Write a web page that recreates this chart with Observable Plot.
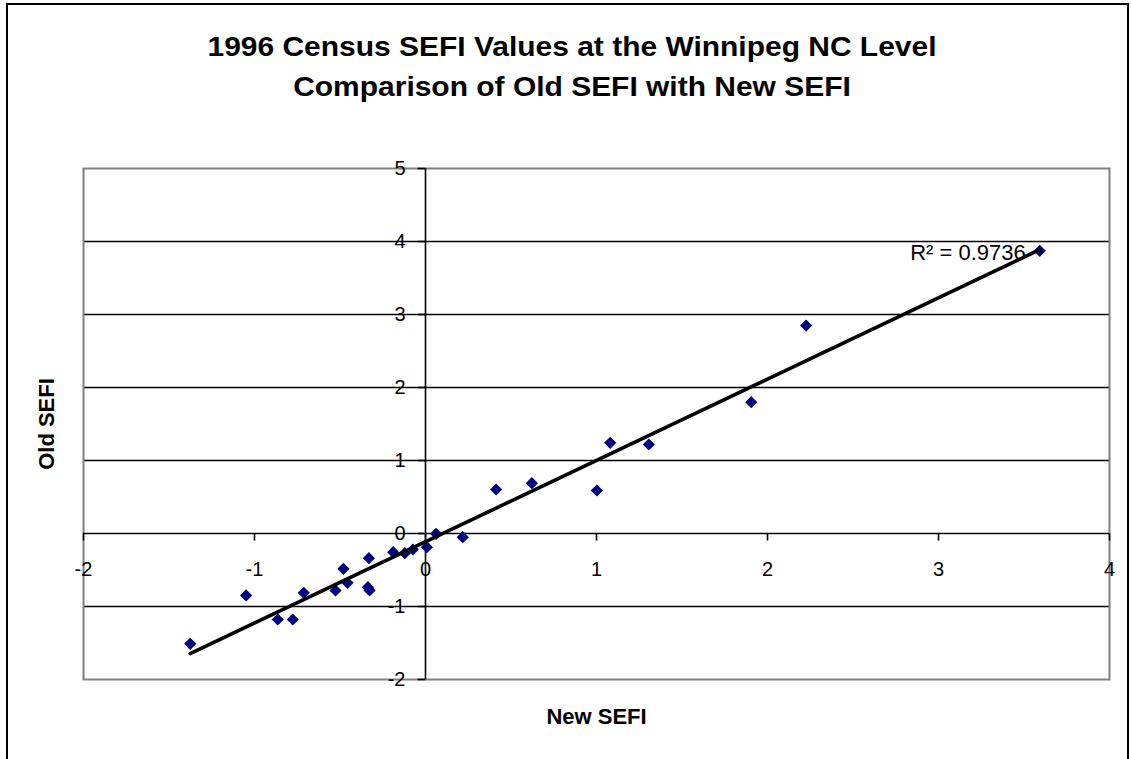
<!DOCTYPE html>
<html>
<head>
<meta charset="utf-8">
<script src="https://cdn.jsdelivr.net/npm/d3@7"></script>
<script src="https://cdn.jsdelivr.net/npm/@observablehq/plot@0.6"></script>
<style>
  html, body { margin: 0; padding: 0; background: #fff; }
  #wrap { position: relative; width: 1132px; height: 759px; overflow: hidden; font-family: "Liberation Sans", Arial, sans-serif; }
  #border { position: absolute; left: 6px; top: 3px; width: 1119px; height: 800px; border: 2px solid #000; box-sizing: content-box; }
  #title { position: absolute; top: 27px; left: 6px; width: 1132px; text-align: center; font-weight: bold; font-size: 28px; line-height: 40px; color: #000; transform: scaleX(1.07); transform-origin: 566px 0; }
  #chart { position: absolute; left: 0; top: 130px; }
</style>
</head>
<body>
<div id="wrap">
  <div id="border"></div>
  <div id="title">1996 Census SEFI Values at the Winnipeg NC Level<br>Comparison of Old SEFI with New SEFI</div>
  <div id="chart"></div>
</div>
<script>
// Data (25 Winnipeg neighbourhood clusters)
const newSEFI = [-1.376, -1.049, -0.864, -0.776, -0.712, -0.526, -0.480, -0.456, -0.331, -0.337, -0.327, -0.189, -0.121, -0.074, 0.008, 0.062, 0.218, 0.413, 0.622, 1.002, 1.080, 1.306, 1.905, 2.226, 3.592];
const oldSEFI = [-1.511, -0.849, -1.178, -1.178, -0.813, -0.781, -0.484, -0.676, -0.338, -0.735, -0.780, -0.256, -0.270, -0.219, -0.187, -0.005, -0.050, 0.603, 0.689, 0.589, 1.242, 1.219, 1.799, 2.849, 3.873];
const xTicks = [-2, -1, 0, 1, 2, 3, 4];
const yTicks = [-2, -1, 0, 1, 2, 3, 4, 5];
const yGrid = [-1, 1, 2, 3, 4];
const r2Label = "R² = 0.9736";
const xTitle = "New SEFI";
const yTitle = "Old SEFI";

const data = newSEFI.map((x, i) => ({x, y: oldSEFI[i]}));
const last = data.reduce((a, b) => (b.x > a.x ? b : a));

const tickDown = {draw(ctx) { ctx.moveTo(0, 0); ctx.lineTo(0, 7); }};
const tickLeft = {draw(ctx) { ctx.moveTo(0, 0); ctx.lineTo(-8, 0); }};

const chart = Plot.plot({
  width: 1132,
  height: 629,
  marginTop: 38,
  marginBottom: 80,
  marginLeft: 83,
  marginRight: 23,
  style: {fontFamily: "'Liberation Sans', Arial, sans-serif", fontSize: "20px", color: "#000", background: "transparent"},
  x: {domain: [-2, 4], axis: null},
  y: {domain: [-2, 5], axis: null},
  marks: [
    Plot.ruleY(yGrid, {stroke: "#000", strokeWidth: 1.6}),
    Plot.frame({stroke: "#808080", strokeWidth: 2}),
    Plot.ruleY([0], {stroke: "#000", strokeWidth: 1.6}),
    Plot.ruleX([0], {stroke: "#000", strokeWidth: 1.6}),
    Plot.dot(xTicks, {x: d => d, y: 0, symbol: tickDown, r: 3, stroke: "#000", strokeWidth: 1.6, fill: "none"}),
    Plot.dot(yTicks, {x: 0, y: d => d, symbol: tickLeft, r: 3, stroke: "#000", strokeWidth: 1.6, fill: "none"}),
    Plot.text(xTicks, {x: d => d, y: 0, dy: 36, text: d => String(d), fill: "#000", fontSize: 20}),
    Plot.text(yTicks, {x: 0, y: d => d, dx: -20, text: d => String(d), textAnchor: "end", fill: "#000", fontSize: 20}),
    Plot.dot(data, {x: "x", y: "y", symbol: "diamond2", r: 5.5, fill: "#000080", stroke: "none"}),
    Plot.linearRegressionY(data, {x: "x", y: "y", stroke: "#000", strokeWidth: 3.6, ci: 0}),
    Plot.text([r2Label], {x: last.x, y: last.y, dx: -14, dy: 2, text: d => d, textAnchor: "end", fill: "#000", fontSize: 22}),
    Plot.text([xTitle], {frameAnchor: "bottom", dy: 44, text: d => d, textAnchor: "middle", fontWeight: "bold", fontSize: 22, fill: "#000"}),
    Plot.text([yTitle], {frameAnchor: "left", dx: -37, rotate: -90, text: d => d, textAnchor: "middle", lineAnchor: "middle", fontWeight: "bold", fontSize: 22, fill: "#000"})
  ]
});
document.getElementById("chart").appendChild(chart);
</script>
</body>
</html>
